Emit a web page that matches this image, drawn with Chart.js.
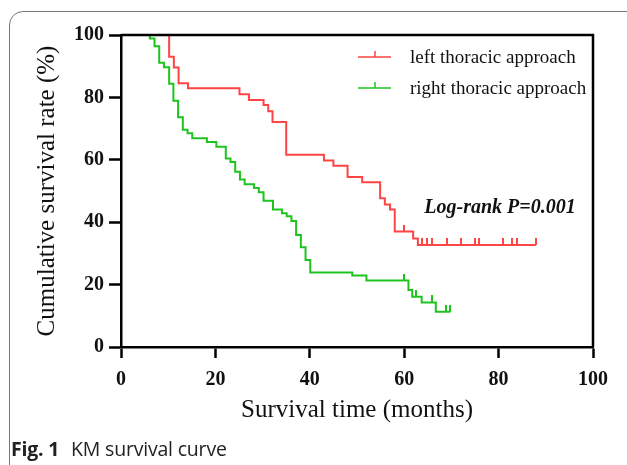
<!DOCTYPE html>
<html>
<head>
<meta charset="utf-8">
<script src="https://cdn.jsdelivr.net/npm/chart.js@4.4.1/dist/chart.umd.min.js"></script>
<style>
  html, body { margin: 0; padding: 0; background: #fff; }
  #wrap { position: relative; width: 627px; height: 465px; overflow: hidden; }
  #frame { position: absolute; left: 9px; top: 11px; width: 700px; height: 520px; border: 1px solid #777; border-radius: 14px; box-sizing: border-box; }
  #chartBox { position: absolute; left: 0; top: 0; width: 627px; height: 465px; }
  #caption { position: absolute; left: 11px; top: 435px; font-family: 'Open Sans', sans-serif; font-size: 19.5px; color: #222; white-space: nowrap; letter-spacing: -0.2px; }
  #caption b { font-weight: 700; margin-right: 7px; }
</style>
</head>
<body>
<div id="wrap">
  <div id="frame"></div>
  <div id="chartBox"><canvas id="kmChart"></canvas></div>
  <div id="caption"><b>Fig. 1</b> KM survival curve</div>
</div>
<script>
// Kaplan-Meier curves: event times (months) and survival (%) after each step
const groupLabels = ['left thoracic approach', 'right thoracic approach'];

const leftTimes = [0, 10.2, 11.2, 12.2, 14.2, 25.1, 27.1, 30.2, 31.2, 32.1, 35.0, 43.0, 45.0, 48.0, 51.1, 54.9, 55.9, 57.0, 58.0, 61.9, 62.9];
const leftSurv = [100, 93.0, 89.6, 84.5, 82.9, 81.0, 79.2, 77.6, 75.6, 72.1, 61.6, 59.8, 58.1, 54.5, 52.8, 47.7, 45.7, 44.1, 37.0, 34.8, 32.7];
const leftCensored = [60.0, 63.8, 64.9, 65.9, 69.0, 72.0, 75.0, 75.8, 81.0, 82.9, 83.8, 87.9];

const rightTimes = [0, 6.1, 7.1, 8.1, 9.1, 10.2, 11.1, 12.1, 13.1, 14.1, 15.1, 18.2, 20.2, 22.2, 23.2, 24.2, 25.2, 26.2, 28.2, 29.2, 30.2, 32.2, 34.1, 35.1, 36.1, 37.1, 38.1, 39.1, 40.1, 49.0, 52.0, 60.9, 61.7, 63.7, 66.7];
const rightSurv = [100, 98.9, 96.4, 91.1, 89.7, 84.4, 78.9, 73.6, 69.6, 68.5, 66.9, 65.7, 64.2, 60.4, 59.3, 56.2, 53.7, 52.2, 51.0, 49.6, 46.9, 44.1, 42.9, 41.9, 40.4, 35.9, 32.0, 27.9, 23.9, 22.9, 21.3, 18.3, 16.1, 14.3, 11.3];
const rightCensored = [6.1, 60.0, 62.6, 65.9, 68.8, 69.8];

const timeTicks = [0, 20, 40, 60, 80, 100];
const rateTicks = [0, 20, 40, 60, 80, 100];

const logRankText = 'Log-rank P=0.001';

const RED = '#ff4444';
const GREEN = '#1ec41e';
const SERIF = "'Liberation Serif', 'Times New Roman', serif";

// survival level at time t (step function)
function survAt(times, surv, t) {
    let s = surv[0];
    for (let i = 0; i < times.length; i++) {
        if (times[i] <= t) s = surv[i];
    }
    return s;
}

function curvePoints(times, surv, censored) {
    const pts = times.map((t, i) => ({ x: t, y: surv[i] }));
    const last = Math.max(...censored, times[times.length - 1]);
    pts.push({ x: last, y: surv[surv.length - 1] });
    return pts;
}

function censorPoints(times, surv, censored) {
    return censored.map(t => ({ x: t, y: survAt(times, surv, t) }));
}

// small upward tick used as the censor mark
function tickImage(color) {
    const c = document.createElement('canvas');
    c.width = 2;
    c.height = 14;
    const g = c.getContext('2d');
    g.fillStyle = color;
    g.fillRect(0, 0, 2, 7);
    return c;
}

const kmLegend = {
    id: 'kmLegend',
    afterDraw(chart) {
        const ctx = chart.ctx;
        const area = chart.chartArea;
        const colors = [RED, GREEN];
        ctx.save();
        ctx.font = '19px ' + SERIF;
        ctx.textBaseline = 'middle';
        ctx.fillStyle = '#111';
        groupLabels.forEach((label, i) => {
            const y = area.top + 22 + i * 31;
            const x0 = area.left + 237;
            ctx.strokeStyle = colors[i];
            ctx.lineWidth = 1.5;
            ctx.beginPath();
            ctx.moveTo(x0, y);
            ctx.lineTo(x0 + 33, y);
            ctx.moveTo(x0 + 17, y);
            ctx.lineTo(x0 + 17, y - 6);
            ctx.stroke();
            ctx.fillText(label, x0 + 52, y + 1);
        });
        ctx.restore();
    }
};

const boxAndText = {
    id: 'boxAndText',
    afterDraw(chart) {
        const ctx = chart.ctx;
        const area = chart.chartArea;
        const xs = chart.scales.x, ys = chart.scales.y;
        ctx.save();
        ctx.strokeStyle = '#000';
        ctx.lineWidth = 2.5;
        ctx.beginPath();
        ctx.moveTo(area.left, area.top);
        ctx.lineTo(area.right, area.top);
        ctx.lineTo(area.right, area.bottom);
        ctx.stroke();
        ctx.font = 'italic bold 20px ' + SERIF;
        ctx.fillStyle = '#111';
        ctx.textAlign = 'center';
        ctx.textBaseline = 'middle';
        ctx.fillText(logRankText, xs.getPixelForValue(80.3), ys.getPixelForValue(44.5));
        ctx.restore();
    }
};

const ctx = document.getElementById('kmChart').getContext('2d');

new Chart(ctx, {
    type: 'line',
    data: {
        datasets: [{
            label: groupLabels[0],
            data: curvePoints(leftTimes, leftSurv, leftCensored),
            borderColor: RED,
            borderWidth: 2,
            stepped: 'before',
            pointRadius: 0,
            fill: false
        }, {
            label: groupLabels[1],
            data: curvePoints(rightTimes, rightSurv, rightCensored),
            borderColor: GREEN,
            borderWidth: 2,
            stepped: 'before',
            pointRadius: 0,
            fill: false
        }, {
            label: 'left censored',
            data: censorPoints(leftTimes, leftSurv, leftCensored),
            showLine: false,
            pointStyle: tickImage(RED),
            pointRadius: 4
        }, {
            label: 'right censored',
            data: censorPoints(rightTimes, rightSurv, rightCensored),
            showLine: false,
            pointStyle: tickImage(GREEN),
            pointRadius: 4
        }]
    },
    options: {
        responsive: true,
        maintainAspectRatio: false,
        animation: false,
        layout: { padding: { left: 0, right: 34, top: 35, bottom: 0 } },
        plugins: {
            legend: { display: false },
            tooltip: { enabled: false }
        },
        scales: {
            x: {
                type: 'linear',
                min: 0,
                max: 100,
                afterBuildTicks: s => { s.ticks = timeTicks.map(v => ({ value: v })); },
                afterFit: s => { s.height = 118; },
                border: { display: true, color: '#000', width: 2.5 },
                grid: { drawOnChartArea: false, drawTicks: true, tickLength: 11, tickColor: '#000', tickWidth: 2.5 },
                ticks: { color: '#111', padding: 10, maxRotation: 0, font: { family: SERIF, size: 20, weight: 'bold' } },
                title: {
                    display: true,
                    text: 'Survival time (months)',
                    color: '#111',
                    font: { family: SERIF, size: 25 },
                    padding: { top: 0, bottom: 40 }
                }
            },
            y: {
                type: 'linear',
                min: 0,
                max: 100,
                afterBuildTicks: s => { s.ticks = rateTicks.map(v => ({ value: v })); },
                afterFit: s => { s.width = 121; },
                border: { display: true, color: '#000', width: 2.5 },
                grid: { drawOnChartArea: false, drawTicks: true, tickLength: 12, tickColor: '#000', tickWidth: 2.5 },
                ticks: { color: '#111', padding: 5, font: { family: SERIF, size: 20, weight: 'bold' } },
                title: {
                    display: true,
                    text: 'Cumulative survival rate (%)',
                    color: '#111',
                    font: { family: SERIF, size: 25 },
                    padding: { top: 32, bottom: 0 }
                }
            }
        }
    },
    plugins: [kmLegend, boxAndText]
});
</script>
</body>
</html>
